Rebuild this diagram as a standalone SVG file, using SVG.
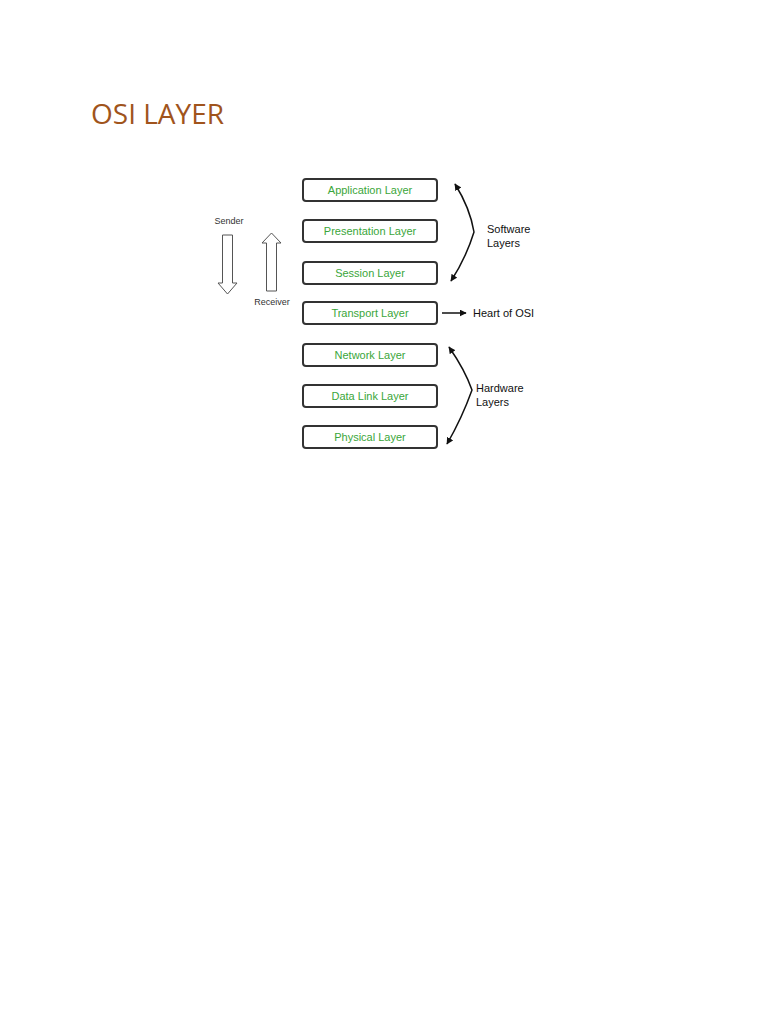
<svg xmlns="http://www.w3.org/2000/svg" width="768" height="1024" viewBox="0 0 768 1024">
<style>
.box{fill:#fff;stroke:#333;stroke-width:2}
.lbl{font-family:"Liberation Sans",Arial,sans-serif;font-size:11px;fill:#3aa63a;text-anchor:middle}
.side{font-family:"Liberation Sans",Arial,sans-serif;font-size:11px;fill:#111}
.small{font-family:"Liberation Sans",Arial,sans-serif;font-size:9px;fill:#333}
.con{fill:none;stroke:#111;stroke-width:1.5}
.hollow{fill:#fff;stroke:#555;stroke-width:1}
</style>
<defs>
<marker id="ah" viewBox="0 0 10 10" refX="9" refY="5" markerWidth="7" markerHeight="7" markerUnits="userSpaceOnUse" orient="auto-start-reverse">
<path d="M0,0 L10,5 L0,10 z" fill="#111"/>
</marker>
</defs>
<rect width="768" height="1024" fill="#fff"/>
<text x="91" y="124" font-family="'Open Sans','Liberation Sans',sans-serif" font-size="28" fill="#a0541c">OSI LAYER</text>
<g id="application"><rect class="box" x="303" y="179" width="134" height="22" rx="3"/><text class="lbl" x="370" y="194">Application Layer</text></g>
<g id="presentation"><rect class="box" x="303" y="220" width="134" height="22" rx="3"/><text class="lbl" x="370" y="235">Presentation Layer</text></g>
<g id="session"><rect class="box" x="303" y="262" width="134" height="22" rx="3"/><text class="lbl" x="370" y="277">Session Layer</text></g>
<g id="transport"><rect class="box" x="303" y="302" width="134" height="22" rx="3"/><text class="lbl" x="370" y="317">Transport Layer</text></g>
<g id="network"><rect class="box" x="303" y="344" width="134" height="22" rx="3"/><text class="lbl" x="370" y="359">Network Layer</text></g>
<g id="datalink"><rect class="box" x="303" y="385" width="134" height="22" rx="3"/><text class="lbl" x="370" y="400">Data Link Layer</text></g>
<g id="physical"><rect class="box" x="303" y="426" width="134" height="22" rx="3"/><text class="lbl" x="370" y="441">Physical Layer</text></g>
<g id="sender">
<path class="hollow" d="M222.5,235 L232.5,235 L232.5,283 L237,283 L227.5,294 L218,283 L222.5,283 z"/>
<text class="small" x="229" y="224" text-anchor="middle">Sender</text>
</g>
<g id="receiver">
<path class="hollow" d="M266.5,291 L276.5,291 L276.5,243 L281,243 L271.5,233 L262,243 L266.5,243 z"/>
<text class="small" x="272" y="305" text-anchor="middle">Receiver</text>
</g>
<g id="software"><text class="side" x="487" y="233">Software</text><text class="side" x="487" y="247">Layers</text></g>
<g id="hardware"><text class="side" x="476" y="392">Hardware</text><text class="side" x="476" y="406">Layers</text></g>
<g id="heart"><text class="side" x="473" y="317">Heart of OSI</text></g>
<g id="connectors">
<path class="con" d="M455,184 Q470,208 474,232 Q466,258 451,281" marker-start="url(#ah)" marker-end="url(#ah)"/>
<path class="con" d="M449,347 Q465,370 472,390 Q462,418 447,444" marker-start="url(#ah)" marker-end="url(#ah)"/>
<path class="con" d="M442,313 L466,313" marker-end="url(#ah)"/>
</g>
</svg>
